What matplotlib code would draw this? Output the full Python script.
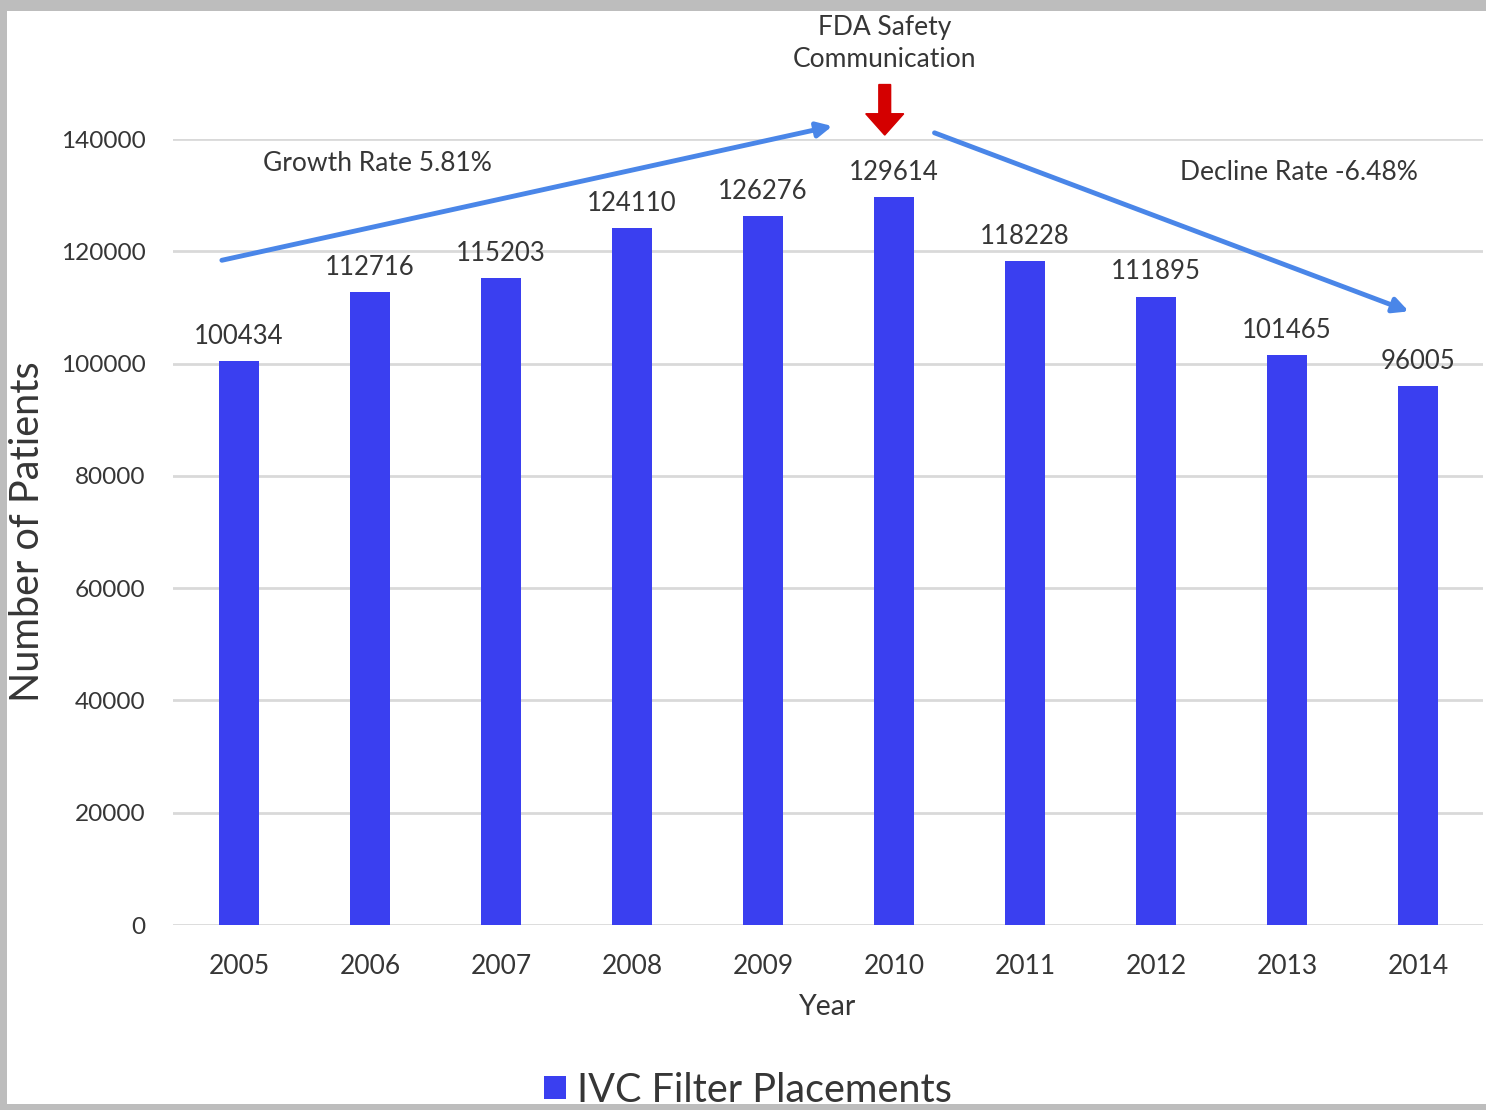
import matplotlib
matplotlib.use("Agg")
import matplotlib.pyplot as plt
from matplotlib.patches import Rectangle, FancyArrow

years = ["2005", "2006", "2007", "2008", "2009", "2010", "2011", "2012", "2013", "2014"]
placements = [100434, 112716, 115203, 124110, 126276, 129614, 118228, 111895, 101465, 96005]
y_ticks = [0, 20000, 40000, 60000, 80000, 100000, 120000, 140000]

series_name = "IVC Filter Placements"
growth_text = "Growth Rate 5.81%"
decline_text = "Decline Rate -6.48%"
fda_text = "FDA Safety\nCommunication"

BAR = "#3a3ff0"
ARROW = "#4a86e8"
TEXT = "#363636"
FONT = ["Lato", "DejaVu Sans"]

plt.rcParams["font.family"] = FONT

fig = plt.figure(figsize=(14.86, 11.10), dpi=100, facecolor="#bdbdbd")
# white page panel with a grey shadow border
fig.patches.append(Rectangle((7 / 1486, 6 / 1110), 1 - 7 / 1486, 1 - 17 / 1110,
                             transform=fig.transFigure, facecolor="white",
                             edgecolor="none", zorder=-5))

ax = fig.add_axes([173.4 / 1486, 185 / 1110, 1310 / 1486, 786 / 1110])
ax.set_facecolor("none")
ax.set_zorder(2)

x = list(range(len(years)))
bars = ax.bar(x, placements, width=0.31, color=BAR, zorder=3, label=series_name)

ax.set_xlim(-0.5, 9.5)
ax.set_ylim(0, 140000)
ax.set_yticks(y_ticks)
ax.set_yticklabels([str(v) for v in y_ticks])
ax.set_xticks(x)
ax.set_xticklabels(years)
ax.tick_params(axis="both", length=0, colors=TEXT)
ax.tick_params(axis="y", pad=20, labelsize=17.6)
ax.tick_params(axis="x", pad=21, labelsize=19)
ax.yaxis.grid(True, color="#d9d9d9", linewidth=2, zorder=0)
for s in ax.spines.values():
    s.set_visible(False)

ax.set_ylabel("Number of Patients", fontsize=28.5, color=TEXT, va="center")
ax.yaxis.set_label_coords(-0.111, 0.5)
ax.set_xlabel("Year", fontsize=20.5, color=TEXT, va="center")
ax.xaxis.set_label_coords(0.4997, -0.104)

# value labels above each bar
for xi, v in zip(x, placements):
    ax.annotate(str(v), (xi, v), xytext=(0, 9), textcoords="offset points",
                ha="center", va="bottom", fontsize=18.5, color=TEXT, zorder=4)

# trend arrows
ax.annotate("", xy=(4.53, 142300), xytext=(-0.13, 118400),
            arrowprops=dict(arrowstyle="-|>,head_length=0.9,head_width=0.45",
                            color=ARROW, lw=3.5, shrinkA=0, shrinkB=0),
            annotation_clip=False, zorder=5)
ax.annotate("", xy=(8.93, 109300), xytext=(5.31, 141100),
            arrowprops=dict(arrowstyle="-|>,head_length=0.9,head_width=0.45",
                            color=ARROW, lw=3.5, shrinkA=0, shrinkB=0),
            annotation_clip=False, zorder=5)

ax.text(1.06, 135700, growth_text, ha="center", va="center", fontsize=19, color=TEXT)
ax.text(8.09, 134100, decline_text, ha="center", va="center", fontsize=19, color=TEXT)

# FDA marker: red block arrow pointing down to 2010
# (shaft/head widths run along x, head length along y)
ax.add_patch(FancyArrow(4.93, 149700, 0, -9000, width=0.09, head_width=0.29,
                        head_length=3800, length_includes_head=True,
                        color="#d40000", clip_on=False, zorder=5))
ax.text(4.93, 157000, fda_text, ha="center", va="center", fontsize=19,
        color=TEXT, linespacing=1.35)

leg = fig.legend(handles=[bars], labels=[series_name], loc="center",
                 bbox_to_anchor=(0.5 + 5 / 1486, 20 / 1110), frameon=False,
                 fontsize=28.5, handlelength=0.55, handleheight=0.55,
                 handletextpad=0.3, labelcolor=TEXT)

fig.savefig("out.png", dpi=100, facecolor=fig.get_facecolor())
